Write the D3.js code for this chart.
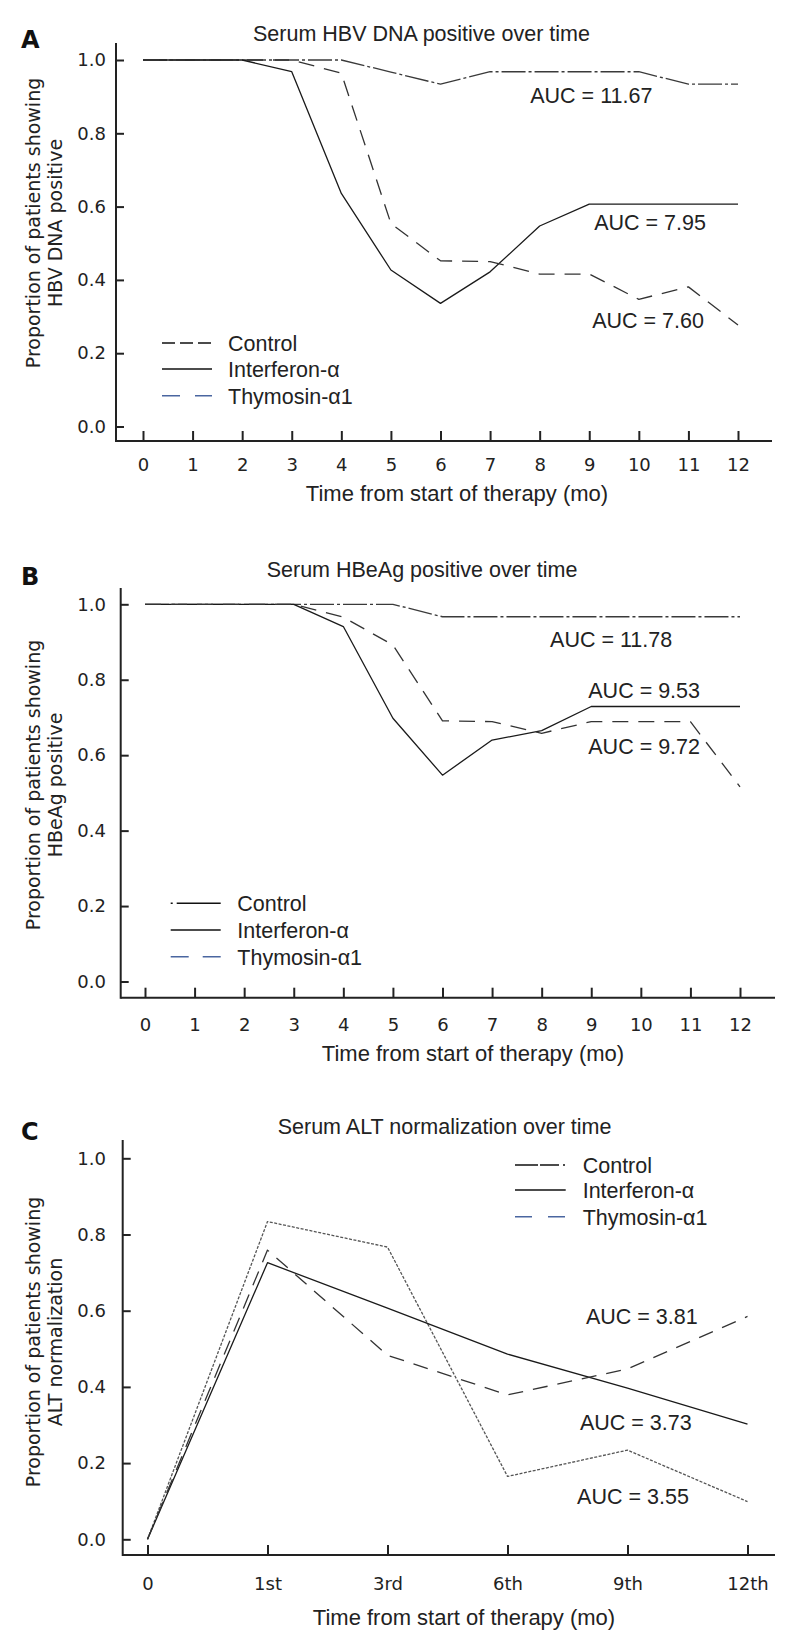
<!DOCTYPE html>
<html><head><meta charset="utf-8">
<script src="https://cdn.jsdelivr.net/npm/d3@7"></script>
<style>body{margin:0;background:#fff} svg{display:block}</style>
</head><body>
<svg id="chart" width="800" height="1643"></svg>
<script>
// ---------- DATA ----------
const months = [0, 1, 2, 3, 4, 5, 6, 7, 8, 9, 10, 11, 12];
const altTimes = [0, 1, 2, 3, 4, 5];
const altLabels = ["0", "1st", "3rd", "6th", "9th", "12th"];
const seriesNames = ["Control", "Interferon-\u03b1", "Thymosin-\u03b11"];
const yTickValues = [0, 0.2, 0.4, 0.6, 0.8, 1.0];

const hbvControl    = [1, 1, 1, 1, 1, 0.967, 0.934, 0.968, 0.968, 0.968, 0.968, 0.934, 0.934];
const hbvInterferon = [1, 1, 1, 0.968, 0.636, 0.427, 0.336, 0.422, 0.547, 0.607, 0.607, 0.607, 0.607];
const hbvThymosin   = [1, 1, 1, 1, 0.964, 0.554, 0.452, 0.450, 0.416, 0.416, 0.347, 0.381, 0.277];

const hbeControl    = [1, 1, 1, 1, 1, 1, 0.967, 0.967, 0.967, 0.967, 0.967, 0.967, 0.967];
const hbeInterferon = [1, 1, 1, 1, 0.941, 0.698, 0.547, 0.640, 0.665, 0.729, 0.729, 0.729, 0.729];
const hbeThymosin   = [1, 1, 1, 1, 0.966, 0.892, 0.691, 0.689, 0.658, 0.689, 0.689, 0.689, 0.516];

const altControl    = [0, 0.834, 0.767, 0.165, 0.234, 0.099];
const altInterferon = [0, 0.726, 0.607, 0.486, 0.397, 0.302];
const altThymosin   = [0, 0.759, 0.483, 0.379, 0.447, 0.585];

const hbvAUC = ["AUC = 11.67", "AUC = 7.95", "AUC = 7.60"];
const hbeAUC = ["AUC = 11.78", "AUC = 9.53", "AUC = 9.72"];
const altAUC = ["AUC = 3.81", "AUC = 3.73", "AUC = 3.55"];

// ---------- LAYOUT ----------
const svg = d3.select("#chart");
const FONT = "'Liberation Sans', Arial, sans-serif";
const TICKFONT = "'DejaVu Sans', Verdana, sans-serif";
const INK = "#222";
const BLUE = "#4a66a0";

const panels = [
  {
    letter: "A", title: "Serum HBV DNA positive over time", titleX: 253, titleY: 40.7, letterY: 47.7,
    yTitle: ["Proportion of patients showing", "HBV DNA positive"], yTitleC: 223,
    xs: months, xDomain: [0, 12], xTicks: months, xFormat: d => String(d),
    x0: 143, x1: 738, y0: 426.5, y1: 60, axisX: 116, axisY: 441, yTop: 43, xRight: 772,
    yPad: 10, xPad: 17, xTitleX: 457, xTitleY: 501,
    series: [hbvControl, hbvInterferon, hbvThymosin],
    auc: hbvAUC, aucPos: [[7.81, 0.882], [9.10, 0.536], [9.06, 0.268]],
    ctrlDash: "24,3,3,3", ctrlColor: "#3a3a3a", thyDash: "16,10",
    legX: [162, 212], legY: [343, 369, 395.7], legTextX: 228,
    legCtrlDash: "13,5", legThyDash: "18,15"
  },
  {
    letter: "B", title: "Serum HBeAg positive over time", titleX: 266.7, titleY: 576.7, letterY: 585,
    yTitle: ["Proportion of patients showing", "HBeAg positive"], yTitleC: 785,
    xs: months, xDomain: [0, 12], xTicks: months, xFormat: d => String(d),
    x0: 145, x1: 740, y0: 981.5, y1: 604.3, axisX: 120.7, axisY: 997.7, yTop: 588, xRight: 775,
    yPad: 14.7, xPad: 21, xTitleX: 473, xTitleY: 1061,
    series: [hbeControl, hbeInterferon, hbeThymosin],
    auc: hbeAUC, aucPos: [[8.17, 0.886], [8.94, 0.751], [8.94, 0.603]],
    ctrlDash: "24,3,3,3", ctrlColor: "#3a3a3a", thyDash: "16,10",
    legX: [170.7, 220.7], legY: [903.3, 930, 956.7], legTextX: 237.3,
    legCtrlDash: "2,4,44", legThyDash: "18,14"
  },
  {
    letter: "C", title: "Serum ALT normalization over time", titleX: 277.7, titleY: 1134, letterY: 1140,
    yTitle: ["Proportion of patients showing", "ALT normalization"], yTitleC: 1342,
    xs: altTimes, xDomain: [0, 5], xTicks: altTimes, xFormat: i => altLabels[i],
    x0: 147.5, x1: 747.5, y0: 1539.3, y1: 1158.3, axisX: 122.7, axisY: 1555, yTop: 1140, xRight: 775,
    yPad: 16.7, xPad: 22, xTitleX: 464, xTitleY: 1625,
    series: [altControl, altInterferon, altThymosin],
    auc: altAUC, aucPos: [[3.654, 0.564], [3.604, 0.287], [3.58, 0.093]],
    ctrlDash: "3,1.5", ctrlColor: "#555", thyDash: "15,10",
    legX: [515, 565.7], legY: [1165, 1190, 1216.7], legTextX: 582.7,
    legCtrlDash: "23,2,19,4,2,50", legThyDash: "17,16"
  }
];

function drawPanel(p) {
  const g = svg.append("g");
  const x = d3.scaleLinear().domain(p.xDomain).range([p.x0, p.x1]);
  const y = d3.scaleLinear().domain([0, 1]).range([p.y0, p.y1]);

  // panel letter + title
  g.append("text").attr("x", 21).attr("y", p.letterY)
    .attr("font-family", TICKFONT).attr("font-weight", "bold").attr("font-size", 24)
    .attr("fill", "#111").text(p.letter);
  g.append("text").attr("x", p.titleX).attr("y", p.titleY)
    .attr("font-family", FONT).attr("font-size", 21.5).attr("fill", INK).text(p.title);

  // axis lines
  g.append("line").attr("x1", p.axisX).attr("x2", p.axisX).attr("y1", p.yTop).attr("y2", p.axisY + 1)
    .attr("stroke", INK).attr("stroke-width", 2);
  g.append("line").attr("x1", p.axisX).attr("x2", p.xRight).attr("y1", p.axisY).attr("y2", p.axisY)
    .attr("stroke", INK).attr("stroke-width", 2);

  // y axis
  const yAxis = d3.axisLeft(y).tickValues(yTickValues).tickFormat(d3.format(".1f"))
    .tickSizeInner(-8).tickSizeOuter(0).tickPadding(p.yPad);
  const ga = g.append("g").attr("transform", `translate(${p.axisX},0)`).call(yAxis);
  ga.select(".domain").remove();
  ga.attr("font-family", TICKFONT).attr("font-size", 18);
  ga.selectAll("line").attr("stroke", INK).attr("stroke-width", 2);
  ga.selectAll("text").attr("fill", INK);

  // x axis
  const xAxis = d3.axisBottom(x).tickValues(p.xTicks).tickFormat(p.xFormat)
    .tickSizeInner(-10).tickSizeOuter(0).tickPadding(p.xPad);
  const gx = g.append("g").attr("transform", `translate(0,${p.axisY})`).call(xAxis);
  gx.select(".domain").remove();
  gx.attr("font-family", TICKFONT).attr("font-size", 18);
  gx.selectAll("line").attr("stroke", INK).attr("stroke-width", 2);
  gx.selectAll("text").attr("fill", INK);

  // axis titles
  g.append("text").attr("x", p.xTitleX).attr("y", p.xTitleY).attr("text-anchor", "middle")
    .attr("font-family", FONT).attr("font-size", 22).attr("fill", INK)
    .text("Time from start of therapy (mo)");
  p.yTitle.forEach((t, i) => {
    g.append("text").attr("transform", `translate(${i === 0 ? 39.5 : 62},${p.yTitleC}) rotate(-90)`)
      .attr("text-anchor", "middle").attr("font-family", TICKFONT).attr("font-size", 19)
      .attr("fill", INK).text(t);
  });

  // series
  const styles = [
    { stroke: p.ctrlColor, dash: p.ctrlDash, w: 1.3 },
    { stroke: "#1a1a1a", dash: null, w: 1.3 },
    { stroke: "#333", dash: p.thyDash, w: 1.3 }
  ];
  const line = d3.line().x((d, i) => x(p.xs[i])).y(d => y(d));
  p.series.forEach((s, k) => {
    g.append("path").datum(s).attr("d", line).attr("fill", "none")
      .attr("stroke", styles[k].stroke).attr("stroke-width", styles[k].w)
      .attr("stroke-dasharray", styles[k].dash).attr("stroke-linejoin", "round");
  });

  // AUC annotations
  p.auc.forEach((t, k) => {
    g.append("text").attr("x", x(p.aucPos[k][0])).attr("y", y(p.aucPos[k][1]))
      .attr("font-family", FONT).attr("font-size", 21.5).attr("fill", INK).text(t);
  });

  // legend
  const legStyles = [
    { stroke: "#111", dash: p.legCtrlDash },
    { stroke: "#111", dash: null },
    { stroke: BLUE, dash: p.legThyDash }
  ];
  seriesNames.forEach((name, k) => {
    g.append("line").attr("x1", p.legX[0]).attr("x2", p.legX[1])
      .attr("y1", p.legY[k]).attr("y2", p.legY[k])
      .attr("stroke", legStyles[k].stroke).attr("stroke-width", 1.6)
      .attr("stroke-dasharray", legStyles[k].dash);
    g.append("text").attr("x", p.legTextX).attr("y", p.legY[k] + 8)
      .attr("font-family", FONT).attr("font-size", 21.5).attr("fill", INK).text(name);
  });
}

panels.forEach(drawPanel);
</script>
</body></html>
